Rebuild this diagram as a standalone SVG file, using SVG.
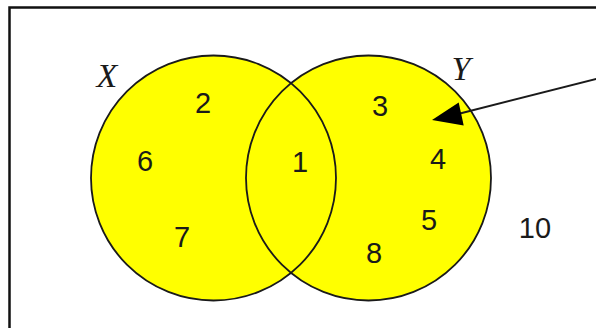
<svg xmlns="http://www.w3.org/2000/svg" width="596" height="328" viewBox="0 0 596 328">
  <style>
    .fill { fill: #ffff00; stroke: none; }
    .outline { fill: none; stroke: #1a1a1a; stroke-width: 1.8; }
    .num { font-family: "Liberation Sans", Arial, sans-serif; font-size: 29px; fill: #1a1a1a; text-anchor: middle; }
    .lbl { font-family: "Liberation Serif", "Times New Roman", serif; font-style: italic; font-size: 34px; fill: #1a1a1a; text-anchor: middle; }
    .conn { stroke: #1a1a1a; stroke-width: 2; fill: none; }
  </style>
  <rect x="0" y="0" width="596" height="328" fill="#ffffff"/>
  <rect id="frame" x="9.5" y="7.5" width="600" height="340" fill="none" stroke="#111111" stroke-width="2.5"/>
  <g id="set-x">
    <circle class="fill" cx="213.5" cy="178" r="122.5"/>
  </g>
  <g id="set-y">
    <circle class="fill" cx="368.5" cy="178" r="122.5"/>
  </g>
  <g id="outlines">
    <circle class="outline" cx="213.5" cy="178" r="122.5"/>
    <circle class="outline" cx="368.5" cy="178" r="122.5"/>
  </g>
  <g id="labels">
    <text class="lbl" x="107" y="87">X</text>
    <text class="lbl" x="461" y="80">Y</text>
  </g>
  <g id="elements">
    <text class="num" x="203" y="113">2</text>
    <text class="num" x="145" y="171">6</text>
    <text class="num" x="182" y="247">7</text>
    <text class="num" x="300" y="172">1</text>
    <text class="num" x="380" y="116">3</text>
    <text class="num" x="438" y="169">4</text>
    <text class="num" x="429" y="230">5</text>
    <text class="num" x="374" y="263">8</text>
    <text class="num" x="535" y="238">10</text>
  </g>
  <g id="connectors">
    <line class="conn" x1="598" y1="78.5" x2="458" y2="114"/>
    <polygon points="432,120 463.7,125.5 458.7,102.5" fill="#000000"/>
  </g>
</svg>
